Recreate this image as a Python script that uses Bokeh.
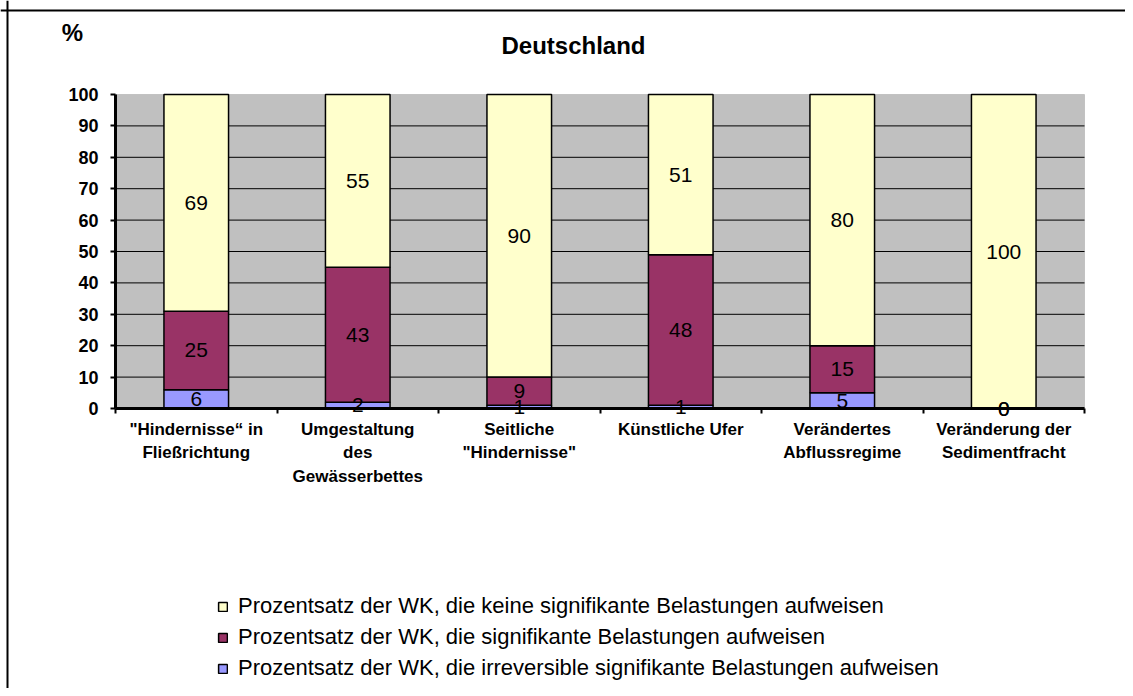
from bokeh.plotting import figure
from bokeh.models import (ColumnDataSource, FixedTicker, LabelSet, Label, Legend,
                          LegendItem, Range1d, BoxAnnotation, Span)
from bokeh.core.properties import value
from bokeh.embed import file_html
from bokeh.resources import INLINE

categories = ['"Hindernisse“ in\nFließrichtung', 'Umgestaltung\ndes\nGewässerbettes',
              'Seitliche\n"Hindernisse"', 'Künstliche Ufer',
              'Verändertes\nAbflussregime', 'Veränderung der\nSedimentfracht']
irreversible = [6, 2, 1, 1, 5, 0]
signifikant = [25, 43, 9, 48, 15, 0]
keine = [69, 55, 90, 51, 80, 100]
y_ticks = [0, 10, 20, 30, 40, 50, 60, 70, 80, 90, 100]

series_names = ["Prozentsatz der WK, die keine signifikante Belastungen aufweisen",
                "Prozentsatz der WK, die signifikante Belastungen aufweisen",
                "Prozentsatz der WK, die irreversible signifikante Belastungen aufweisen"]
title_text = "Deutschland"
unit_text = "%"
colors = {"irr": "#9999FF", "sig": "#993366", "keine": "#FFFFCC"}

FONT = "Liberation Sans"
n = len(categories)
xs = [i + 0.5 for i in range(n)]

# layout geometry (pixels in the canvas)
W, H = 1125, 688
PL, PR, PT, PB = 115, 1084, 94, 408       # plot area edges
ymax = y_ticks[-1]
xpx = (PR - PL) / n
ypx = (PB - PT) / ymax
x_range = Range1d(-PL / xpx, n + (W - PR) / xpx)
y_range = Range1d(-(H - PB) / ypx, ymax + PT / ypx)

src = ColumnDataSource(dict(x=xs, irr=irreversible, sig=signifikant, keine=keine))

p = figure(width=W, height=H, output_backend="svg", toolbar_location=None,
           x_range=x_range, y_range=y_range,
           min_border=0, min_border_left=0, min_border_right=0,
           min_border_top=0, min_border_bottom=0,
           background_fill_color="white", border_fill_color="white")
p.outline_line_color = None
p.xgrid.visible = False
p.ygrid.visible = False

# plot area background
p.add_layout(BoxAnnotation(left=0, right=n, bottom=0, top=ymax, fill_color="#C0C0C0",
                           fill_alpha=1, line_color="#808080", line_width=1,
                           level="underlay"))
# horizontal grid lines
grid_vals = y_ticks[1:-1]
p.segment(x0=[0] * len(grid_vals), x1=[n] * len(grid_vals), y0=grid_vals, y1=grid_vals,
          line_color="black", line_width=1)

rs = p.vbar_stack(["irr", "sig", "keine"], x="x", width=0.4, source=src,
                  fill_color=[colors["irr"], colors["sig"], colors["keine"]],
                  line_color="black", line_width=1.5)

# labels at segment centres
lab_x, lab_y, lab_t = [], [], []
for i in range(n):
    base = 0
    for v in (irreversible[i], signifikant[i], keine[i]):
        lab_x.append(xs[i])
        lab_y.append(base + v / 2)
        lab_t.append(str(v))
        base += v
lsrc = ColumnDataSource(dict(x=lab_x, y=lab_y, t=lab_t))
p.add_layout(LabelSet(x="x", y="y", text="t", source=lsrc, text_align="center",
                      text_baseline="middle", text_font=value(FONT),
                      text_font_size="21px", text_color="black"))

# y axis
p.yaxis.fixed_location = 0
p.yaxis.bounds = (0, ymax)
p.yaxis.ticker = FixedTicker(ticks=y_ticks)
p.yaxis.axis_line_width = 3
p.yaxis.axis_line_color = "black"
p.yaxis.major_tick_line_width = 2
p.yaxis.major_tick_line_color = "black"
p.yaxis.major_tick_out = 5
p.yaxis.major_tick_in = 0
p.yaxis.minor_tick_out = 0
p.yaxis.minor_tick_in = 0
p.yaxis.major_label_text_font = FONT
p.yaxis.major_label_text_font_style = "bold"
p.yaxis.major_label_text_font_size = "18px"
p.yaxis.major_label_text_color = "black"
p.yaxis.major_label_standoff = 12

# x axis
p.xaxis.fixed_location = 0
p.xaxis.bounds = (0, n)
p.xaxis.ticker = FixedTicker(ticks=xs, minor_ticks=list(range(n + 1)))
p.xaxis.major_label_overrides = {x: c for x, c in zip(xs, categories)}
p.xaxis.axis_line_width = 3
p.xaxis.axis_line_color = "black"
p.xaxis.major_tick_out = 0
p.xaxis.major_tick_in = 0
p.xaxis.minor_tick_out = 5
p.xaxis.minor_tick_in = 0
p.xaxis.minor_tick_line_width = 2
p.xaxis.minor_tick_line_color = "black"
p.xaxis.major_label_text_font = FONT
p.xaxis.major_label_text_font_style = "bold"
p.xaxis.major_label_text_font_size = "17px"
p.xaxis.major_label_text_color = "black"
p.xaxis.major_label_text_line_height = 1.25
p.xaxis.major_label_standoff = 6

# title and unit
p.add_layout(Label(x=573, y=H - 45, x_units="screen", y_units="screen", text=title_text,
                   text_font=FONT, text_font_style="bold", text_font_size="24px",
                   text_color="black", text_align="center", text_baseline="middle"))
p.add_layout(Label(x=72, y=H - 32, x_units="screen", y_units="screen", text=unit_text,
                   text_font=FONT, text_font_style="bold", text_font_size="24px",
                   text_color="black", text_align="center", text_baseline="middle"))

# outer chart border (left and top edges)
p.add_layout(Span(location=7, location_units="screen", dimension="height",
                  line_color="black", line_width=2))
p.add_layout(Span(location=H - 10, location_units="screen", dimension="width",
                  line_color="black", line_width=2))

legend = Legend(items=[LegendItem(label=series_names[0], renderers=[rs[2]]),
                       LegendItem(label=series_names[1], renderers=[rs[1]]),
                       LegendItem(label=series_names[2], renderers=[rs[0]])],
                location=(217, H - 681), orientation="vertical", padding=0, margin=0,
                spacing=5, glyph_width=11, glyph_height=11, label_standoff=10,
                label_height=24, label_text_font=FONT, label_text_font_size="22px",
                label_text_color="black",
                border_line_alpha=0, background_fill_alpha=0)
p.add_layout(legend, "center")

open("out.html", "w").write(file_html(p, INLINE))
